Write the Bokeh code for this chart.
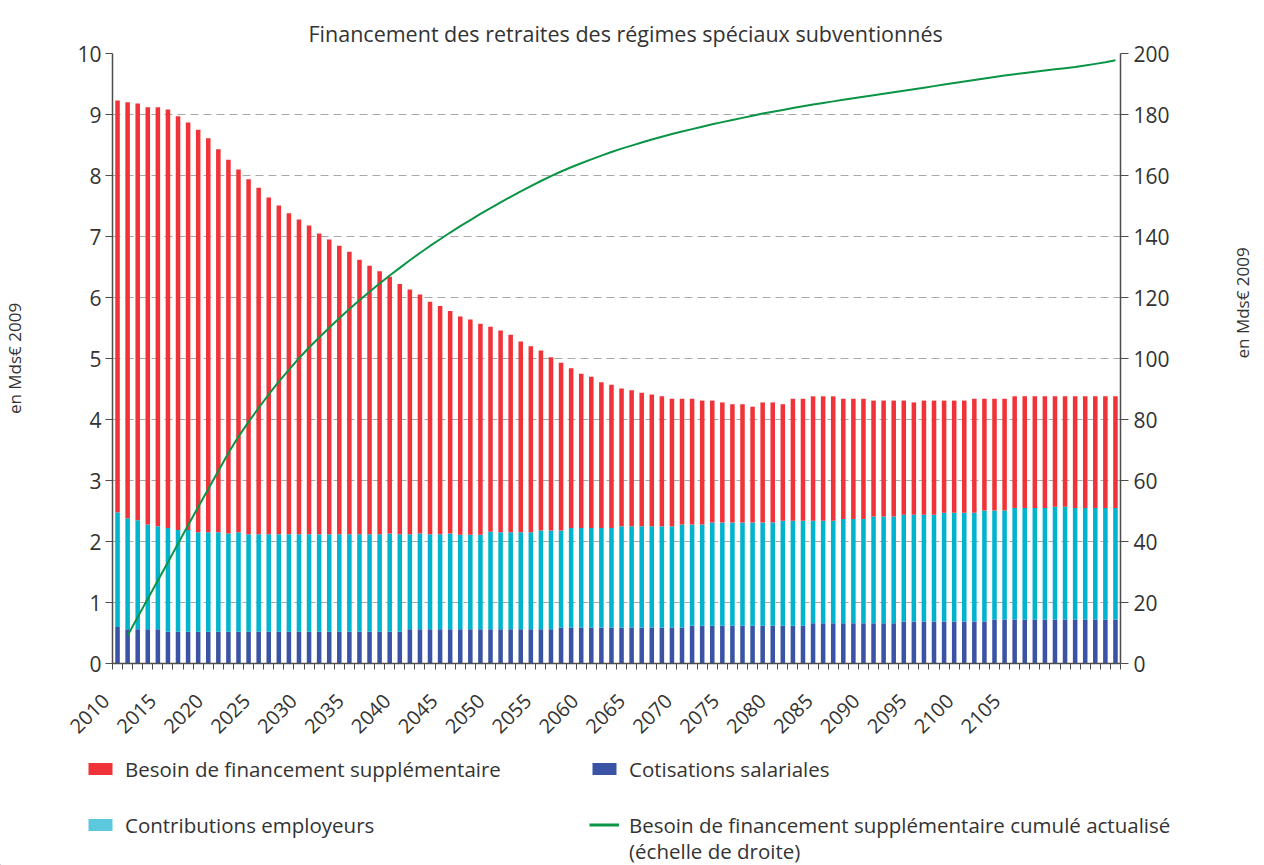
import math
from bokeh.plotting import figure
from bokeh.models import (Range1d, LinearAxis, FixedTicker, Legend, LegendItem,
                          ColumnDataSource)
from bokeh.embed import file_html
from bokeh.resources import INLINE

# ---------------- data ----------------
years = list(range(2010, 2110))

# top of the stacked bar (total, Mds€ 2009)
total_level = [
    9.23, 9.20, 9.18, 9.12, 9.12, 9.08, 8.97, 8.87, 8.75, 8.61,
    8.43, 8.26, 8.10, 7.94, 7.80, 7.64, 7.51, 7.38, 7.28, 7.18,
    7.05, 6.95, 6.85, 6.75, 6.62, 6.52, 6.43, 6.34, 6.22, 6.13,
    6.05, 5.93, 5.86, 5.78, 5.69, 5.64, 5.57, 5.52, 5.46, 5.39,
    5.28, 5.20, 5.13, 5.02, 4.93, 4.84, 4.75, 4.70, 4.61, 4.57,
    4.51, 4.48, 4.44, 4.41, 4.38, 4.34, 4.34, 4.34, 4.31, 4.31,
    4.28, 4.25, 4.25, 4.21, 4.28, 4.28, 4.25, 4.34, 4.34, 4.38,
    4.38, 4.38, 4.34, 4.34, 4.34, 4.31, 4.31, 4.31, 4.31, 4.28,
    4.31, 4.31, 4.31, 4.31, 4.31, 4.34, 4.34, 4.34, 4.34, 4.38,
    4.38, 4.38, 4.38, 4.38, 4.38, 4.38, 4.38, 4.38, 4.38, 4.38,
]

# top of the "contributions employeurs" segment (cotisations + contributions)
employer_level = [
    2.48, 2.38, 2.35, 2.28, 2.25, 2.22, 2.19, 2.19, 2.15, 2.15,
    2.15, 2.13, 2.15, 2.12, 2.12, 2.12, 2.12, 2.12, 2.12, 2.12,
    2.12, 2.12, 2.12, 2.12, 2.12, 2.12, 2.12, 2.13, 2.12, 2.12,
    2.13, 2.12, 2.12, 2.13, 2.11, 2.11, 2.11, 2.16, 2.15, 2.15,
    2.15, 2.15, 2.18, 2.18, 2.18, 2.22, 2.22, 2.22, 2.22, 2.22,
    2.25, 2.25, 2.25, 2.25, 2.25, 2.25, 2.28, 2.28, 2.28, 2.31,
    2.31, 2.31, 2.31, 2.31, 2.31, 2.31, 2.34, 2.34, 2.34, 2.34,
    2.34, 2.34, 2.37, 2.37, 2.37, 2.41, 2.41, 2.41, 2.44, 2.44,
    2.44, 2.44, 2.47, 2.47, 2.47, 2.47, 2.51, 2.51, 2.51, 2.55,
    2.55, 2.55, 2.55, 2.57, 2.57, 2.55, 2.55, 2.55, 2.55, 2.55,
]

# cotisations salariales
employee_level = [
    0.60, 0.56, 0.56, 0.56, 0.56, 0.52, 0.52, 0.52, 0.52, 0.52,
    0.52, 0.52, 0.52, 0.52, 0.52, 0.52, 0.52, 0.52, 0.52, 0.52,
    0.52, 0.52, 0.52, 0.52, 0.52, 0.52, 0.52, 0.52, 0.52, 0.56,
    0.56, 0.56, 0.56, 0.56, 0.56, 0.56, 0.56, 0.56, 0.56, 0.56,
    0.56, 0.56, 0.56, 0.56, 0.59, 0.59, 0.59, 0.59, 0.59, 0.59,
    0.59, 0.59, 0.59, 0.59, 0.59, 0.59, 0.59, 0.62, 0.62, 0.62,
    0.62, 0.62, 0.62, 0.62, 0.62, 0.62, 0.62, 0.62, 0.62, 0.66,
    0.66, 0.66, 0.66, 0.66, 0.66, 0.66, 0.66, 0.66, 0.69, 0.69,
    0.69, 0.69, 0.69, 0.69, 0.69, 0.69, 0.69, 0.72, 0.72, 0.72,
    0.72, 0.72, 0.72, 0.72, 0.72, 0.72, 0.72, 0.72, 0.72, 0.72,
]

# cumulated discounted need (right scale)
cumul_years = list(range(2011, 2110))
cumul_need = [
    9.2, 15.2, 21.2, 27.2, 33.2, 39.3, 45.3, 51.3, 57.2, 63.1,
    69.0, 74.4, 79.2, 83.8, 88.2, 92.4, 96.3, 100.1, 103.6, 106.9,
    110.1, 113.2, 116.2, 119.1, 121.9, 124.6, 127.2, 129.7, 132.2, 134.6,
    136.9, 139.1, 141.3, 143.4, 145.4, 147.4, 149.3, 151.2, 153.0, 154.8,
    156.5, 158.2, 159.8, 161.3, 162.7, 164.0, 165.3, 166.5, 167.7, 168.8,
    169.8, 170.8, 171.8, 172.7, 173.6, 174.4, 175.2, 176.0, 176.8, 177.5,
    178.2, 178.9, 179.6, 180.3, 180.9, 181.5, 182.1, 182.7, 183.3, 183.8,
    184.3, 184.8, 185.3, 185.8, 186.3, 186.8, 187.3, 187.8, 188.3, 188.8,
    189.3, 189.8, 190.3, 190.8, 191.3, 191.8, 192.3, 192.8, 193.2, 193.6,
    194.0, 194.4, 194.8, 195.2, 195.6, 196.1, 196.6, 197.1, 197.8,
]

tick_years = list(range(2010, 2106, 5))
left_ticks = list(range(0, 11))
right_ticks = list(range(0, 201, 20))

title_text = "Financement des retraites des régimes spéciaux subventionnés"
axis_title = "en Mds€ 2009"
lbl_besoin = "Besoin de financement supplémentaire"
lbl_contrib = "Contributions employeurs"
lbl_cotis = "Cotisations salariales"
lbl_cumul = "Besoin de financement supplémentaire cumulé actualisé"
lbl_cumul2 = "(échelle de droite)"

# ---------------- styling ----------------
FONT = "Open Sans"
TXT = "#333333"
AX = "#4d4d4d"
RED = "#EF3338"
CYAN = "#00B4CD"
CYAN_LEG = "#5BC8DE"
BLUE = "#3A53A4"
GREEN = "#0A9446"
LABEL_X0 = 2010.26     # anchor of the first year label
LABEL_PITCH = 0.9306   # label spacing (per year) as drawn in the reference
LABEL_PAD = "\u00a0" * 4

source = ColumnDataSource(dict(
    year=years,
    salariales=employee_level,
    employeurs=[round(e - s, 3) for e, s in zip(employer_level, employee_level)],
    besoin=[round(t - e, 3) for t, e in zip(total_level, employer_level)],
))

p = figure(frame_width=1008, frame_height=610,
           min_border_left=104, min_border_right=136,
           min_border_top=53, min_border_bottom=89,
           x_range=Range1d(2009.5, 2109.5), y_range=Range1d(0, 10),
           output_backend="svg", toolbar_location=None)
p.extra_y_ranges = {"right": Range1d(0, 200)}
p.outline_line_color = None

p.title.text = title_text
p.title.align = "left"
p.title.offset = 196
p.title.vertical_align = "top"
p.title.text_font = FONT
p.title.text_font_size = "21.5px"
p.title.text_font_style = "normal"
p.title.text_color = TXT
p.title.standoff = 8

rs = p.vbar_stack(["salariales", "employeurs", "besoin"], x="year", width=0.45,
                  fill_color=[BLUE, CYAN, RED], line_color=None, source=source)
r_line = p.line(cumul_years, cumul_need, y_range_name="right",
                line_color=GREEN, line_width=2)

# grid
p.xgrid.visible = False
p.ygrid.ticker = FixedTicker(ticks=left_ticks)
p.ygrid.grid_line_color = "#a8a8a8"
p.ygrid.grid_line_dash = "8 5"
p.ygrid.grid_line_width = 1.2

# x axis
label_pos = [round(LABEL_X0 + (y - 2010) * LABEL_PITCH, 4) for y in tick_years]
bounds = [y - 0.5 for y in years] + [years[-1] + 0.5]
xa = p.xaxis[0]
xa.ticker = FixedTicker(ticks=label_pos, minor_ticks=bounds)
xa.major_label_overrides = {pos: str(y) + LABEL_PAD for pos, y in zip(label_pos, tick_years)}
xa.major_tick_out = 0
xa.major_tick_in = 0
xa.minor_tick_out = 6
xa.minor_tick_in = 0
xa.minor_tick_line_color = AX
xa.axis_line_color = AX
xa.axis_line_width = 1.5
xa.major_label_orientation = math.pi / 4
xa.major_label_text_font = FONT
xa.major_label_text_font_size = "20px"
xa.major_label_text_color = TXT
xa.major_label_standoff = 13

# left axis
ya = p.yaxis[0]
ya.ticker = FixedTicker(ticks=left_ticks)
ya.minor_tick_line_color = None
ya.major_tick_out = 7
ya.major_tick_in = 0
ya.major_tick_line_color = AX
ya.axis_line_color = AX
ya.axis_line_width = 1.5
ya.major_label_text_font = FONT
ya.major_label_text_font_size = "21px"
ya.major_label_text_color = TXT
ya.major_label_standoff = 4
ya.axis_label = axis_title
ya.axis_label_text_font = FONT
ya.axis_label_text_font_size = "17px"
ya.axis_label_text_font_style = "normal"
ya.axis_label_text_color = TXT
ya.axis_label_standoff = 48

# right axis
ra = LinearAxis(y_range_name="right", ticker=FixedTicker(ticks=right_ticks))
ra.minor_tick_line_color = None
ra.major_tick_out = 8
ra.major_tick_in = 0
ra.major_tick_line_color = AX
ra.axis_line_color = AX
ra.axis_line_width = 1.5
ra.major_label_text_font = FONT
ra.major_label_text_font_size = "21px"
ra.major_label_text_color = TXT
ra.major_label_standoff = 5
ra.axis_label = axis_title
ra.axis_label_text_font = FONT
ra.axis_label_text_font_size = "17px"
ra.axis_label_text_font_style = "normal"
ra.axis_label_text_color = TXT
ra.axis_label_standoff = 70
if "axis_label_orientation" in ra.properties():
    ra.axis_label_orientation = math.pi / 2
p.add_layout(ra, "right")

# ---------------- legend panel (separate root below the chart) ----------------
LW, LH = 1248, 113
lf = figure(width=LW, height=LH, x_range=Range1d(0, LW), y_range=Range1d(0, LH),
            x_axis_type=None, y_axis_type=None, min_border=0,
            min_border_left=0, min_border_right=0, min_border_top=0, min_border_bottom=0,
            output_backend="svg", toolbar_location=None)
lf.outline_line_color = None
lf.grid.visible = False
far = [-1000]
g_red = lf.vbar(x=far, top=[1], width=1, fill_color=RED, line_color=None)
g_cyan = lf.vbar(x=far, top=[1], width=1, fill_color=CYAN_LEG, line_color=None)
g_blue = lf.vbar(x=far, top=[1], width=1, fill_color=BLUE, line_color=None)
g_green = lf.line(x=[-1000, -999], y=[0, 0], line_color=GREEN, line_width=3)
g_blank = lf.line(x=[-1000, -999], y=[0, 0], line_alpha=0)


def make_legend(items, loc):
    return Legend(items=items, location=loc, orientation="vertical",
                  glyph_width=30, glyph_height=15, label_standoff=10,
                  label_height=27, spacing=28, padding=0, margin=0,
                  border_line_color=None, background_fill_alpha=0,
                  label_text_font=FONT, label_text_font_size="20.5px",
                  label_text_color=TXT)


leg1 = make_legend([LegendItem(label=lbl_besoin, renderers=[g_red]),
                    LegendItem(label=lbl_contrib, renderers=[g_cyan])], (85, 26.5))
leg2 = make_legend([LegendItem(label=lbl_cotis, renderers=[g_blue]),
                    LegendItem(label=lbl_cumul, renderers=[g_green])], (589, 26.5))
leg3 = make_legend([LegendItem(label=lbl_cumul2, renderers=[g_blank])], (589, 0.5))
for lg in (leg1, leg2, leg3):
    lf.add_layout(lg)

open("out.html", "w").write(file_html([p, lf], INLINE))
